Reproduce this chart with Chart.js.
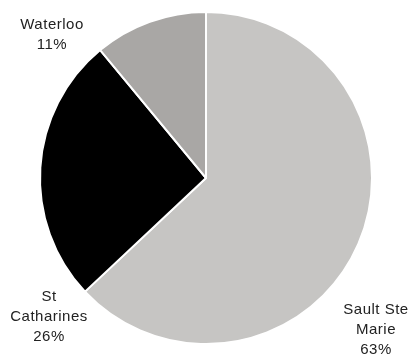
<!DOCTYPE html>
<html>
<head>
<meta charset="utf-8">
<script src="https://cdn.jsdelivr.net/npm/chart.js@4"></script>
<style>
  html, body { margin: 0; padding: 0; background: #ffffff; }
  #wrap { width: 411px; height: 354px; }
</style>
</head>
<body>
<div id="wrap"><canvas id="pieCanvas" width="411" height="354"></canvas></div>
<script>
// campus share
const campuses = ['Sault Ste Marie', 'St Catharines', 'Waterloo'];
const shares = [63, 26, 11];
const sliceColors = ['#c6c5c3', '#000000', '#a9a7a5'];

// label text lines and where each label block sits (centre of first line)
const labelLines = [['Sault Ste', 'Marie', '63%'], ['St', 'Catharines', '26%'], ['Waterloo', '11%']];
const labelPos = [[376, 310], [49, 297], [52, 25]];

const labelPlugin = {
  id: 'sliceLabels',
  afterDraw(chart) {
    const ctx = chart.ctx;
    ctx.save();
    ctx.font = '15px "Liberation Sans", Arial, sans-serif';
    ctx.letterSpacing = '0.5px';
    ctx.fillStyle = '#222222';
    ctx.textAlign = 'center';
    ctx.textBaseline = 'middle';
    labelLines.forEach(function(lines, i) {
      lines.forEach(function(txt, j) {
        ctx.fillText(txt, labelPos[i][0], labelPos[i][1] + j * 20);
      });
    });
    ctx.restore();
  }
};

const pieCanvas = document.getElementById('pieCanvas');
const myChart = new Chart(pieCanvas, {
  type: 'pie',
  data: {
    labels: campuses,
    datasets: [
      {
        data: shares,
        backgroundColor: sliceColors,
        borderColor: '#ffffff',
        borderWidth: 2
      }
    ]
  },
  options: {
    responsive: false,
    animation: false,
    layout: { padding: { left: 39, right: 38, top: 11, bottom: 9 } },
    plugins: {
      legend: { display: false },
      tooltip: { enabled: false }
    }
  },
  plugins: [labelPlugin]
});
</script>
</body>
</html>
